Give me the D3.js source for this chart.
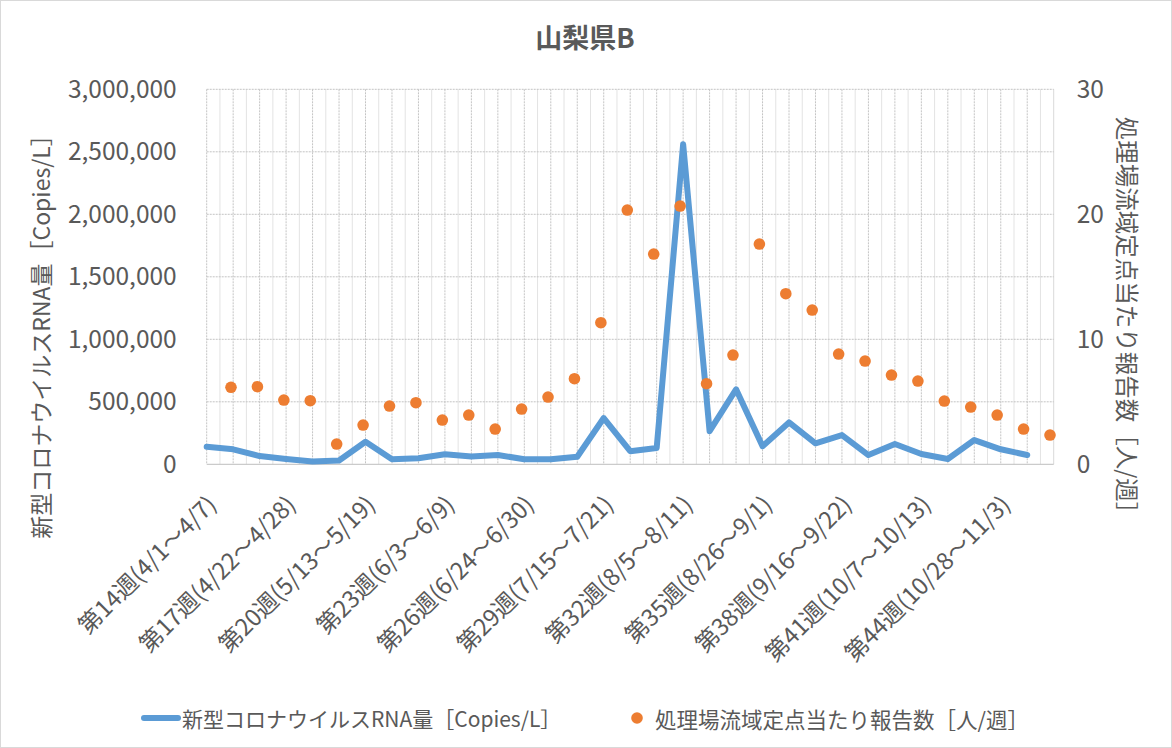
<!DOCTYPE html>
<html><head><meta charset="utf-8">
<script src="https://cdn.jsdelivr.net/npm/d3@7"></script>
<style>
html,body{margin:0;padding:0;background:#fff;}
svg{display:block;font-family:"Noto Sans CJK JP","Noto Sans",sans-serif;}
</style></head>
<body>
<svg id="c" width="1172" height="748"></svg>
<script>
const weeks = ["第14週(4/1～4/7)","第15週(4/8～4/14)","第16週(4/15～4/21)","第17週(4/22～4/28)","第18週(4/29～5/5)","第19週(5/6～5/12)","第20週(5/13～5/19)","第21週(5/20～5/26)","第22週(5/27～6/2)","第23週(6/3～6/9)","第24週(6/10～6/16)","第25週(6/17～6/23)","第26週(6/24～6/30)","第27週(7/1～7/7)","第28週(7/8～7/14)","第29週(7/15～7/21)","第30週(7/22～7/28)","第31週(7/29～8/4)","第32週(8/5～8/11)","第33週(8/12～8/18)","第34週(8/19～8/25)","第35週(8/26～9/1)","第36週(9/2～9/8)","第37週(9/9～9/15)","第38週(9/16～9/22)","第39週(9/23～9/29)","第40週(9/30～10/6)","第41週(10/7～10/13)","第42週(10/14～10/20)","第43週(10/21～10/27)","第44週(10/28～11/3)","第45週(11/4～11/10)"];
const rnaValues = [140000,120000,66000,42000,22000,30000,180000,40000,48000,80000,62000,75000,40000,40000,60000,370000,105000,130000,2560000,265000,600000,145000,335000,168000,234000,74000,162000,82000,42000,194000,120000,74000];
const reportValues = [6.16,6.21,5.14,5.09,1.62,3.14,4.66,4.93,3.54,3.94,2.82,4.42,5.38,6.85,11.33,20.34,16.82,20.66,6.45,8.74,17.62,13.65,12.34,8.82,8.26,7.14,6.66,5.06,4.58,3.94,2.82,2.34];
const leftTicks = [0,500000,1000000,1500000,2000000,2500000,3000000];
const rightTicks = [0,10,20,30];
const title = "山梨県B";
const seriesNames = ["新型コロナウイルスRNA量［Copies/L］","処理場流域定点当たり報告数［人/週］"];

const W = 1172, H = 748;
const L = 206.7, R = 1053.7, T = 89.3, B = 464.3;
const grey = "#595959";
const svg = d3.select("#c");
svg.append("rect").attr("x",0.5).attr("y",0.5).attr("width",W-1).attr("height",H-1).attr("fill","#fff").attr("stroke","#D9D9D9");

const nCat = weeks.length;
const xIdx = d3.scaleLinear().domain([0, nCat]).range([L, R]);
const xLine = d3.scalePoint().domain(weeks).range([xIdx(0), xIdx(nCat-1)]);
const xDot = d3.scalePoint().domain(weeks).range([231, 1050]);
const yL = d3.scaleLinear().domain([0,3000000]).range([B,T]);
const yR = d3.scaleLinear().domain([0,30]).range([B,T]);

const g = svg.append("g");
// minor vertical gridlines
g.selectAll(".minor").data(d3.range(nCat)).join("line")
  .attr("x1",d=>xIdx(d+0.5)).attr("x2",d=>xIdx(d+0.5)).attr("y1",T).attr("y2",B)
  .attr("stroke","#E3E3E3").attr("stroke-width",1);
// major vertical gridlines
g.selectAll(".major").data(d3.range(nCat+1)).join("line")
  .attr("x1",d=>xIdx(d)).attr("x2",d=>xIdx(d)).attr("y1",T).attr("y2",B)
  .attr("stroke-width",1).attr("stroke-dasharray",d=>d===nCat?null:"2,1")
  .attr("stroke", d=>d===nCat?"#D9D9D9":"#C4C4C4");
// horizontal gridlines
g.selectAll(".h").data(leftTicks).join("line")
  .attr("x1",L).attr("x2",R).attr("y1",d=>yL(d)).attr("y2",d=>yL(d))
  .attr("stroke-width",1).attr("stroke-dasharray",d=>d===0?null:"2,1")
  .attr("stroke",d=>d===0?"#BFBFBF":"#C4C4C4");

// left axis
const axL = svg.append("g").attr("transform",`translate(${L},0)`)
  .call(d3.axisLeft(yL).tickValues(leftTicks).tickFormat(d3.format(",")).tickSize(0).tickPadding(30));
axL.select(".domain").remove();
axL.selectAll("text").attr("fill",grey).attr("font-size",24.5).attr("font-family","'Noto Sans CJK JP'");
// right axis
const axR = svg.append("g").attr("transform",`translate(${R},0)`)
  .call(d3.axisRight(yR).tickValues(rightTicks).tickSize(0).tickPadding(23));
axR.select(".domain").remove();
axR.selectAll("text").attr("fill",grey).attr("font-size",24.5).attr("font-family","'Noto Sans CJK JP'");

// x labels every 3rd
const labelWeeks = weeks.filter((d,i)=>i%3===0);
svg.append("g").selectAll("text").data(labelWeeks).join("text")
  .attr("transform",d=>`translate(${xLine(d)+4},499) rotate(-45)`)
  .attr("text-anchor","end").attr("dominant-baseline","central")
  .attr("font-size",23.5).attr("fill",grey).text(d=>d);

// line
svg.append("path").datum(rnaValues)
  .attr("d", d3.line().x((d,i)=>xLine(weeks[i])).y(d=>yL(d)))
  .attr("fill","none").attr("stroke","#5B9BD5").attr("stroke-width",6)
  .attr("stroke-linejoin","round").attr("stroke-linecap","round");
// dots
svg.append("g").selectAll("circle").data(reportValues).join("circle")
  .attr("cx",(d,i)=>xDot(weeks[i])).attr("cy",d=>yR(d)).attr("r",5.8).attr("fill","#ED7D31");

// title
svg.append("text").attr("x",585).attr("y",48).attr("text-anchor","middle")
  .attr("font-size",27).attr("font-weight","bold").attr("fill",grey).text(title);
// axis titles
svg.append("text").attr("transform","translate(40,331) rotate(-90)").attr("text-anchor","middle")
  .attr("dominant-baseline","central").attr("font-size",23).attr("fill",grey).text(seriesNames[0]);
svg.append("text").attr("transform","translate(1128,321) rotate(90)").attr("text-anchor","middle")
  .attr("dominant-baseline","central").attr("font-size",23.5).attr("fill",grey).text(seriesNames[1]);

// legend
const lg = svg.append("g");
lg.append("line").attr("x1",144).attr("x2",178).attr("y1",718).attr("y2",718)
  .attr("stroke","#5B9BD5").attr("stroke-width",6).attr("stroke-linecap","round");
lg.append("text").attr("x",182).attr("y",718).attr("dominant-baseline","central")
  .attr("font-size",21).attr("fill",grey).text(seriesNames[0]);
lg.append("circle").attr("cx",637).attr("cy",718).attr("r",5.8).attr("fill","#ED7D31");
lg.append("text").attr("x",655).attr("y",718).attr("dominant-baseline","central")
  .attr("font-size",21.5).attr("fill",grey).text(seriesNames[1]);
</script>
</body></html>
